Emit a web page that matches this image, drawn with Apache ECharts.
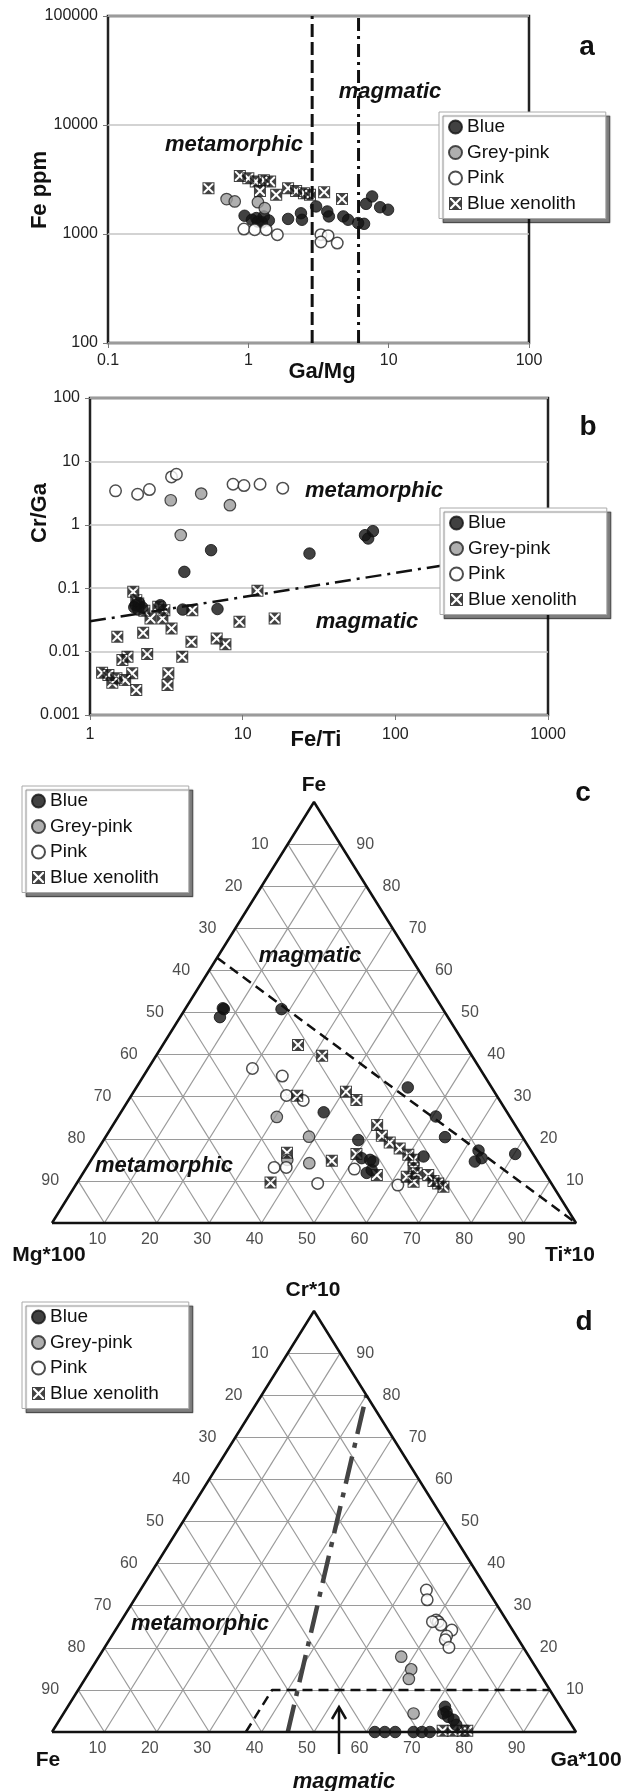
<!DOCTYPE html>
<html><head><meta charset="utf-8">
<script src="https://cdn.jsdelivr.net/npm/echarts/dist/echarts.min.js"></script>
<style>html,body{margin:0;padding:0;background:#fff}#c{width:629px;height:1791px}</style>
</head><body><div id="c"></div><script>
// ---------- Panel a: Ga/Mg vs Fe ppm ----------
const blueA = [[0.94,1470],[1.06,1350],[1.14,1400],[1.17,1300],[1.25,1280],[1.29,1450],[1.40,1330],[1.92,1375],[2.37,1550],[2.41,1350],[3.04,1790],[3.65,1610],[3.75,1450],[4.75,1450],[5.14,1350],[6.06,1260],[6.68,1240],[6.9,1890],[7.62,2210],[8.69,1760],[9.9,1670]];
const greyA = [[0.70,2090],[0.80,1990],[1.17,1960],[1.31,1725]];
const pinkA = [[0.93,1110],[1.11,1095],[1.34,1095],[1.61,985],[3.29,985],[3.70,965],[3.29,845],[4.30,826]];
const xenoA = [[0.52,2630],[0.87,3410],[1.0,3250],[1.13,3030],[1.29,3120],[1.43,3030],[1.21,2480],[1.58,2290],[1.92,2630],[2.19,2480],[2.49,2370],[2.75,2290],[3.47,2420],[4.65,2090]];
const aBoundMeta = 2.85, aBoundMag = 6.1;          // Ga/Mg boundaries
const aXTicks = [0.1, 100], aYTicks = [100, 100000];

// ---------- Panel b: Fe/Ti vs Cr/Ga ----------
const blueB = [[4.15,0.181],[6.21,0.398],[27.4,0.352],[63.3,0.686],[66.4,0.608],[71.3,0.794],[1.99,0.054],[2.07,0.046],[2.2,0.0497],[2.89,0.054],[4.05,0.046],[6.84,0.047],[1.95,0.05],[2.1,0.058]];
const greyB = [[3.38,2.44],[5.35,3.11],[8.25,2.04],[3.93,0.69]];
const pinkB = [[1.47,3.43],[2.05,3.03],[2.45,3.6],[3.42,5.69],[3.68,6.27],[8.65,4.36],[10.2,4.16],[13.0,4.36],[18.3,3.78]];
const xenoB = [[1.92,0.0877],[2.01,0.0648],[2.07,0.0574],[2.27,0.044],[2.49,0.0334],[2.8,0.0509],[2.98,0.0334],[3.07,0.0451],[3.42,0.0232],[4.68,0.0451],[1.51,0.0171],[2.23,0.0198],[2.37,0.00914],[4.02,0.0083],[4.62,0.0143],[6.76,0.0161],[7.71,0.0131],[9.53,0.0296],[12.5,0.091],[16.2,0.0334],[1.2,0.00465],[1.32,0.00427],[1.40,0.00323],[1.49,0.0038],[1.63,0.00736],[1.76,0.0083],[1.70,0.00355],[1.89,0.00455],[2.01,0.00248],[3.26,0.00455],[3.22,0.00297]];
const bBoundary = [[1,0.03],[1000,0.42]];
const bXTicks = [1, 1000], bYTicks = [0.001, 100];

// ---------- Panel c: ternary Fe (top) / Mg*100 (left) / Ti*10 (right); values [Fe, Ti], Mg = rest ----------
const blueC = [[51.0,7.1],[50.8,7.4],[48.9,7.6],[50.8,18.4],[32.2,51.8],[25.3,60.6],[20.4,64.8],[17.2,72.8],[14.6,73.4],[15.4,74.3],[16.4,80.2],[26.3,38.7],[19.7,48.6],[15.0,53.2],[14.6,54.0],[11.9,54.1],[12.6,54.7],[15.8,63.0],[15.4,51.4]];
const greyC = [[25.2,30.3],[20.5,38.8],[14.2,42.0],[15.0,37.4]];
const pinkC = [[36.7,19.9],[34.9,26.5],[30.3,29.6],[29.1,33.4],[13.2,35.8],[13.2,38.1],[9.4,46.0],[12.8,51.3],[9.0,61.5]];
const xenoC = [[42.3,25.8],[39.7,31.7],[30.2,31.7],[31.2,40.5],[29.2,43.5],[23.3,50.4],[20.7,52.6],[19.1,54.9],[17.7,57.5],[16.2,59.9],[15.0,61.5],[13.0,62.5],[11.8,63.7],[11.0,62.2],[9.8,64.1],[11.4,66.1],[10.0,67.8],[9.4,69.0],[8.6,70.4],[16.4,49.9],[11.4,56.3],[14.8,46.0],[16.7,36.5],[9.6,36.9]];
const cBoundary = [[63,0],[0,100]];   // [Fe, Ti]

// ---------- Panel d: ternary Cr*10 (top) / Fe (left) / Ga*100 (right); values [Cr, Ga], Fe = rest ----------
const blueD = [[0,61.6],[0,63.5],[0,65.5],[0,69.0],[0,70.6],[0,72.1],[6.0,72.0],[4.8,72.9],[3.6,73.8],[2.9,75.2],[1.7,76.3],[4.4,72.5]];
const greyD = [[17.9,57.7],[14.9,61.1],[12.6,61.8],[4.4,66.8]];
const pinkD = [[33.7,54.6],[31.4,55.9],[26.6,60.0],[26.2,60.6],[25.4,61.5],[24.2,64.2],[22.8,63.9],[21.9,64.1],[20.1,65.7],[26.2,59.5]];
const xenoD = [[0.3,74.4],[0.3,76.3],[0.3,78.2],[0.3,79.1]];
const dBoundDash = [[0,37],[10,37],[10,90]];      // [Cr, Ga]
const dBoundDashDot = [[0,45],[80,20]];           // [Cr, Ga]

const ternTicks = [10,20,30,40,50,60,70,80,90];
const names = ['Blue','Grey-pink','Pink','Blue xenolith'];

// ---------------------------------------------------------------
const FONT = 'Liberation Sans, Arial, Helvetica, sans-serif';
const tern = ([top, right]) => [right + top / 2, top];   // to cartesian in triangle
const xenoPath = 'path://M0,0H20V20H0Z M1.6,1.6V18.4H18.4V1.6Z M4,1.6H16L10,7.6Z M18.4,4V16L12.4,10Z M16,18.4H4L10,12.4Z M1.6,16V4L7.6,10Z';
const styles = {
  'Blue': {symbol:'circle', symbolSize:11.5, itemStyle:{color:'#111', borderColor:'#111', borderWidth:1}},
  'Grey-pink': {symbol:'circle', symbolSize:11.5, itemStyle:{color:'#9b9b9b', borderColor:'#222', borderWidth:1.2}},
  'Pink': {symbol:'circle', symbolSize:11.5, itemStyle:{color:'#fff', borderColor:'#222', borderWidth:1.5}},
  'Blue xenolith': {symbol:xenoPath, symbolSize:12, itemStyle:{color:'#111'}}
};
function pts(name, data, gi) {
  return Object.assign({type:'scatter', name, xAxisIndex:gi, yAxisIndex:gi, data, clip:false, z:5, silent:true}, styles[name]);
}
function line(data, gi, lineStyle, z) {
  return {type:'line', xAxisIndex:gi, yAxisIndex:gi, data, symbol:'none', silent:true, z:z||3, lineStyle, clip:false};
}
function ternGridSeries(gi) {
  const segs = [];
  ternTicks.forEach(k => {
    segs.push({coords:[[k/2,k],[100-k/2,k]]});
    segs.push({coords:[[k,0],[k+(100-k)/2,100-k]]});
    segs.push({coords:[[100-k,0],[(100-k)/2,100-k]]});
  });
  return {type:'lines', coordinateSystem:'cartesian2d', xAxisIndex:gi, yAxisIndex:gi, data:segs, silent:true, z:1,
          lineStyle:{color:'#9a9a9a', width:1.2, opacity:1}};
}
function ternLabelSeries(gi) {
  const mk = (data, offset) => ({type:'scatter', xAxisIndex:gi, yAxisIndex:gi, data, symbolSize:1, silent:true, clip:false, z:6,
     itemStyle:{color:'rgba(0,0,0,0)'},
     label:{show:true, position:'inside', offset, formatter:p => p.value[2], fontSize:16, color:'#222', fontFamily:FONT}});
  const left = ternTicks.map(k => [k/2, k, String(100-k)]);
  const right = ternTicks.map(k => [100-k/2, k, String(k)]);
  const bottom = ternTicks.map(k => [k, 0, String(k)]);
  return [mk(left,[-28,0]), mk(right,[25,0]), mk(bottom,[-7,17])];
}
function frame(gi) {
  return line([[0,0],[100,0],[50,100],[0,0]], gi, {color:'#111', width:2.5}, 4);
}
const logAxis = (gi, min, max, fmt, extra) => Object.assign({type:'log', logBase:10, gridIndex:gi, min, max,
   axisLine:{show:false}, axisTick:{show:true, length:5, lineStyle:{color:'#777'}},
   axisLabel:{fontSize:16, color:'#222', fontFamily:FONT, margin:10, formatter:fmt},
   splitLine:{show:false}}, extra||{});
const fmtNum = v => v >= 1 ? String(Math.round(v)) : String(parseFloat(v.toPrecision(1)));

const legendBase = (left, top) => ({orient:'vertical', left, top, data:names, selectedMode:false,
  itemWidth:13, itemHeight:13, itemGap:5.5, padding:[5,30,5,9],
  textStyle:{fontSize:19, color:'#111', fontFamily:FONT, lineHeight:20},
  backgroundColor:'#fff', borderColor:'#aaa', borderWidth:1,
  shadowColor:'rgba(0,0,0,0.5)', shadowBlur:1, shadowOffsetX:4, shadowOffsetY:4, z:10});

const T = (text, x, y, size, opts) => Object.assign({type:'text', x, y, z:20, silent:true,
  style:{text, font:(opts&&opts.font)||('bold '+size+'px '+FONT), fill:'#111', align:'center', verticalAlign:'middle', textAlign:'center', textVerticalAlign:'middle'}},
  opts && opts.rot ? {rotation:opts.rot} : {});
const IT = (text, x, y) => T(text, x, y, 22, {font:'italic bold 22px '+FONT});

const series = [];
// panel a
series.push(line([[aBoundMeta, aYTicks[0]],[aBoundMeta, aYTicks[1]]], 0, {color:'#111', width:3, type:[13,5]}));
series.push(line([[aBoundMag, aYTicks[0]],[aBoundMag, aYTicks[1]]], 0, {color:'#111', width:3, type:[13,5,3,5]}));
series.push(pts('Blue', blueA, 0), pts('Grey-pink', greyA, 0), pts('Pink', pinkA, 0), pts('Blue xenolith', xenoA, 0));
// panel b
series.push(line(bBoundary, 1, {color:'#111', width:2.5, type:[16,6,3,6]}));
series.push(pts('Blue', blueB, 1), pts('Grey-pink', greyB, 1), pts('Pink', pinkB, 1), pts('Blue xenolith', xenoB, 1));
// panel c
series.push(ternGridSeries(2), frame(2), ...ternLabelSeries(2));
series.push(line(cBoundary.map(tern), 2, {color:'#111', width:2.5, type:[10,6]}));
series.push(pts('Blue', blueC.map(tern), 2), pts('Grey-pink', greyC.map(tern), 2), pts('Pink', pinkC.map(tern), 2), pts('Blue xenolith', xenoC.map(tern), 2));
// panel d
series.push(ternGridSeries(3), frame(3), ...ternLabelSeries(3));
series.push(line(dBoundDash.map(tern), 3, {color:'#111', width:2.5, type:[10,6]}));
series.push(line(dBoundDashDot.map(tern), 3, {color:'#444', width:4.5, type:[28,9,5,9]}));
series.push(pts('Blue', blueD.map(tern), 3), pts('Grey-pink', greyD.map(tern), 3), pts('Pink', pinkD.map(tern), 3), pts('Blue xenolith', xenoD.map(tern), 3));

const hidden = gi => ({type:'value', gridIndex:gi, min:0, max:100, show:false});
const option = {
  animation:false,
  backgroundColor:'#fff',
  textStyle:{fontFamily:FONT},
  grid:[
    {left:108, top:16, width:421, height:327, show:true, borderColor:'#222', borderWidth:2.5, backgroundColor:'transparent'},
    {left:90, top:398, width:458, height:317, show:true, borderColor:'#222', borderWidth:2.5, backgroundColor:'transparent'},
    {left:52, top:802, width:524, height:421},
    {left:52, top:1311, width:524, height:421}
  ],
  xAxis:[
    logAxis(0, aXTicks[0], aXTicks[1], fmtNum),
    logAxis(1, bXTicks[0], bXTicks[1], fmtNum, {axisLabel:{fontSize:16, color:'#222', fontFamily:FONT, margin:12, formatter:fmtNum}}),
    hidden(2), hidden(3)
  ],
  yAxis:[
    logAxis(0, aYTicks[0], aYTicks[1], fmtNum, {splitLine:{show:true, lineStyle:{color:'#c4c4c4', width:1.5}}}),
    logAxis(1, bYTicks[0], bYTicks[1], fmtNum, {splitLine:{show:true, lineStyle:{color:'#c4c4c4', width:1.5}}}),
    hidden(2), hidden(3)
  ],
  legend:[legendBase(439,112), legendBase(440,508), legendBase(22,786), legendBase(22,1302)],
  graphic:[
    T('a', 587, 47, 28), IT('magmatic', 390, 92), IT('metamorphic', 234, 145),
    T('Fe ppm', 40, 190, 22, {rot:Math.PI/2}), T('Ga/Mg', 322, 372, 22),
    T('b', 588, 427, 28), IT('metamorphic', 374, 491), IT('magmatic', 367, 622),
    T('Cr/Ga', 40, 513, 22, {rot:Math.PI/2}), T('Fe/Ti', 316, 740, 22),
    T('c', 583, 793, 28), T('Fe', 314, 785, 21), T('Mg*100', 49, 1255, 21), T('Ti*10', 570, 1255, 21),
    IT('magmatic', 310, 956), IT('metamorphic', 164, 1166),
    T('d', 584, 1322, 28), T('Cr*10', 313, 1290, 21), T('Fe', 48, 1760, 21), T('Ga*100', 586, 1760, 21),
    IT('metamorphic', 200, 1624), IT('magmatic', 344, 1782),
    {type:'line', z:20, silent:true, shape:{x1:339, y1:1754, x2:339, y2:1708}, style:{stroke:'#111', lineWidth:2.5}},
    {type:'polyline', z:20, silent:true, shape:{points:[[332,1719],[339,1707],[346,1719]]}, style:{stroke:'#111', lineWidth:2.5, fill:null}}
  ],
  series
};
const chart = echarts.init(document.getElementById('c'), null, {renderer:'canvas'});
chart.setOption(option);
</script></body></html>
